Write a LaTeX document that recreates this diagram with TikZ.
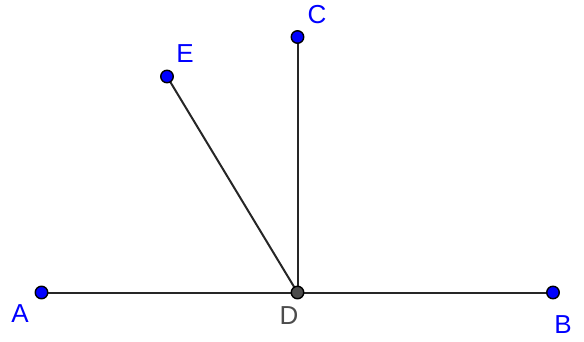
\documentclass[tikz,border=0pt]{standalone}
\usepackage{fontspec}
\setmainfont{Liberation Sans}
\begin{document}
\begin{tikzpicture}[x=1pt,y=-1pt,
  seg/.style={draw=black!85, line width=2pt},
  pt/.style={circle, draw=black, line width=1.4pt, fill=blue, inner sep=0pt, minimum size=12.5pt},
  ptd/.style={circle, draw=black, line width=1.4pt, fill=black!70, inner sep=0pt, minimum size=12.5pt},
  lbl/.style={text=blue, font=\fontsize{26}{26}\selectfont, inner sep=0pt},
  lbld/.style={text=black!70, font=\fontsize{26}{26}\selectfont, inner sep=0pt}]
\useasboundingbox (0,0) rectangle (584,341);
\coordinate (A) at (41.5,292.5);
\coordinate (D) at (297.5,292.5);
\coordinate (B) at (553,292.5);
\coordinate (C) at (297.5,37);
\coordinate (E) at (167,76.5);
\draw[seg] (A) -- (D);
\draw[seg] (D) -- (B);
\draw[seg] (D) -- (C);
\draw[seg] (D) -- (E);
\node[pt] (pA) at (A) {};
\node[pt] (pB) at (B) {};
\node[pt] (pC) at (C) {};
\node[pt] (pE) at (E) {};
\node[ptd] (pD) at (D) {};
\node[lbl] (lA) at (20,314) {A};
\node[lbl] (lB) at (563,325) {B};
\node[lbl] (lC) at (317,15) {C};
\node[lbl] (lE) at (185,54) {E};
\node[lbld] (lD) at (289,316) {D};
\end{tikzpicture}
\end{document}
